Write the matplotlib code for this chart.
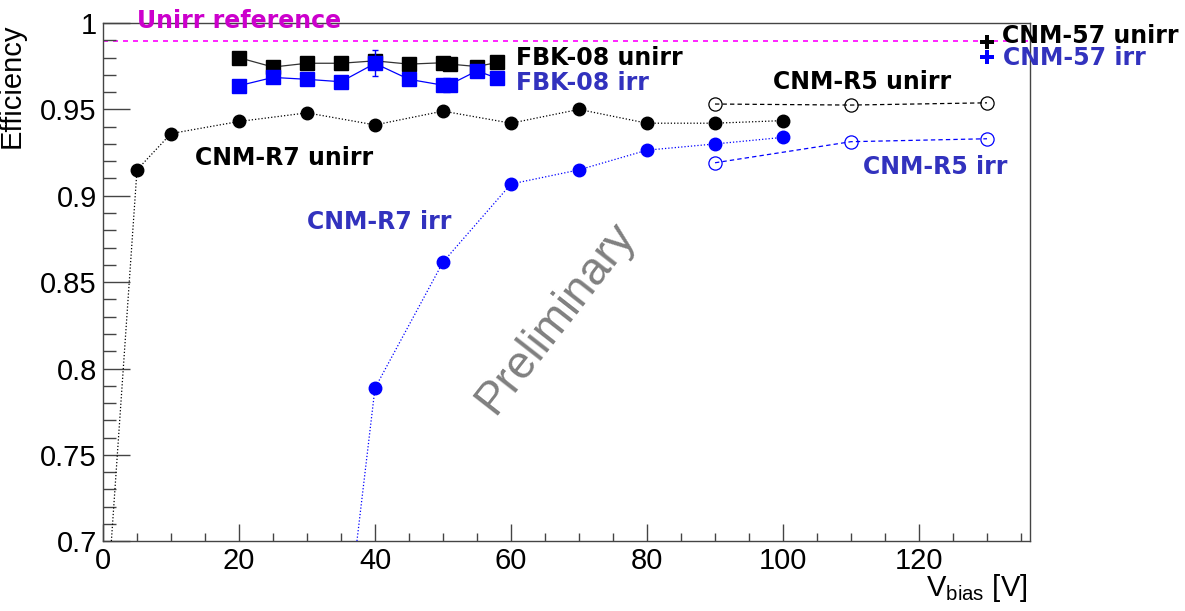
import matplotlib
matplotlib.use("Agg")
import matplotlib.pyplot as plt
from matplotlib.ticker import MultipleLocator, FixedLocator, FixedFormatter

# ---- data ----
r7_unirr_v = [1, 5, 10, 20, 30, 40, 50, 60, 70, 80, 90, 100]
r7_unirr_eff = [0.687, 0.915, 0.936, 0.943, 0.948, 0.941, 0.949, 0.942, 0.950, 0.942, 0.942, 0.9435]

r7_irr_v = [35, 40, 50, 60, 70, 80, 90, 100]
r7_irr_eff = [0.622, 0.7887, 0.8616, 0.9068, 0.9150, 0.9264, 0.9300, 0.9338]

r5_unirr_v = [90, 110, 130]
r5_unirr_eff = [0.9531, 0.9525, 0.9538]

r5_irr_v = [90, 110, 130]
r5_irr_eff = [0.9191, 0.9313, 0.9330]

fbk_v = [20, 25, 30, 35, 40, 45, 50, 51, 55, 58]
fbk_unirr_eff = [0.9799, 0.9745, 0.9767, 0.9767, 0.9781, 0.9762, 0.9770, 0.9762, 0.9748, 0.9772]
fbk_irr_eff = [0.9637, 0.9685, 0.9674, 0.9660, 0.9766, 0.9674, 0.9640, 0.9644, 0.9723, 0.9680]
fbk_irr_err = [0, 0, 0, 0, 0.0075, 0, 0, 0, 0, 0]

cnm57_v = [130]
cnm57_unirr_eff = [0.989]
cnm57_irr_eff = [0.9804]

unirr_reference = 0.9897

y_ticks = [0.7, 0.75, 0.8, 0.85, 0.9, 0.95, 1.0]
y_tick_labels = ["0.7", "0.75", "0.8", "0.85", "0.9", "0.95", "1"]
x_ticks = [0, 20, 40, 60, 80, 100, 120]
x_tick_labels = ["0", "20", "40", "60", "80", "100", "120"]

# ---- style ----
plt.rcParams["mathtext.fontset"] = "custom"
plt.rcParams["mathtext.rm"] = "Liberation Sans"
plt.rcParams["mathtext.it"] = "Liberation Sans:italic"
plt.rcParams["mathtext.bf"] = "Liberation Sans:bold"

BLUE = "#0000ff"
TXT_BLUE = "#3232be"
MAGENTA_TXT = "#cc00cc"
MAGENTA = "#ff00ff"
FRAME = "#444444"

W, H = 1185, 611
fig = plt.figure(figsize=(W / 100, H / 100), dpi=100)
ax = fig.add_axes([103 / W, 1 - 541.3 / H, (1030 - 103) / W, (541.3 - 23) / H])

ax.set_xlim(0, (1030 - 103) / 6.8)
ax.set_ylim(0.7, 1.0)

dotted = (0, (1, 1.6))
dashed = (0, (3.5, 2.5))

# reference line
ax.axhline(unirr_reference, color=MAGENTA, lw=1.2, ls=(0, (3, 3)), zorder=1)

# CNM-R7
ax.plot(r7_unirr_v, r7_unirr_eff, color="black", lw=0.9, ls=dotted,
        marker="o", ms=9, mec="black", mfc="black", zorder=3)
ax.plot(r7_irr_v, r7_irr_eff, color=BLUE, lw=0.9, ls=dotted,
        marker="o", ms=9, mec=BLUE, mfc=BLUE, zorder=3)

# CNM-R5
ax.plot(r5_unirr_v, r5_unirr_eff, color="black", lw=0.9, ls=dashed,
        marker="o", ms=9.5, mec="black", mfc="none", mew=0.9, zorder=3)
ax.plot(r5_irr_v, r5_irr_eff, color=BLUE, lw=0.9, ls=dashed,
        marker="o", ms=9.5, mec=BLUE, mfc="none", mew=0.9, zorder=3)

# FBK-08
ax.plot(fbk_v, fbk_unirr_eff, color="#333333", lw=0.9, ls="-",
        marker="s", ms=9.5, mec="black", mfc="black", zorder=3)
ax.errorbar(fbk_v, fbk_irr_eff, yerr=fbk_irr_err, color=BLUE, lw=0.9, ls="-",
            marker="s", ms=9.5, mec=BLUE, mfc=BLUE, ecolor=BLUE, elinewidth=1,
            capsize=2.5, capthick=1, zorder=4)

# CNM-57
ax.plot(cnm57_v, cnm57_unirr_eff, ls="none", marker="P", ms=9.5,
        color="black", mew=0, zorder=5, clip_on=False)
ax.plot(cnm57_v, cnm57_irr_eff, ls="none", marker="P", ms=9.5,
        color=BLUE, mew=0, zorder=5, clip_on=False)

# labels
lab = dict(fontsize=17, fontweight="bold", family="DejaVu Sans",
           ha="left", va="baseline", clip_on=False, zorder=6)
ax.text(4.96, 0.9969, "Unirr reference", color=MAGENTA_TXT, **lab)
ax.text(60.8, 0.9756, "FBK-08 unirr", color="black", **lab)
ax.text(60.8, 0.9612, "FBK-08 irr", color=TXT_BLUE, **lab)
ax.text(13.5, 0.9178, "CNM-R7 unirr", color="black", **lab)
ax.text(30.0, 0.8806, "CNM-R7 irr", color=TXT_BLUE, **lab)
ax.text(98.6, 0.9616, "CNM-R5 unirr", color="black", **lab)
ax.text(111.8, 0.9124, "CNM-R5 irr", color=TXT_BLUE, **lab)
ax.text(132.2, 0.9882, "CNM-57 unirr", color="black", **lab)
ax.text(132.3, 0.9756, "CNM-57 irr", color=TXT_BLUE, **lab)

ax.text(556 / W, 1 - 318 / H, "Preliminary", transform=fig.transFigure,
        rotation=52, fontsize=33, family="Liberation Sans", color="#808080",
        ha="center", va="center", rotation_mode="anchor", zorder=2)

# axes
for s in ax.spines.values():
    s.set_color(FRAME)
    s.set_linewidth(1.0)

ax.xaxis.set_major_locator(FixedLocator(x_ticks))
ax.xaxis.set_major_formatter(FixedFormatter(x_tick_labels))
ax.xaxis.set_minor_locator(MultipleLocator(5))
ax.yaxis.set_major_locator(FixedLocator(y_ticks))
ax.yaxis.set_major_formatter(FixedFormatter(y_tick_labels))
ax.yaxis.set_minor_locator(MultipleLocator(0.01))

ax.tick_params(which="both", direction="in", top=False, right=False,
               color=FRAME, width=1)
ax.tick_params(axis="y", which="major", length=19.5, pad=4.5)
ax.tick_params(axis="y", which="minor", length=9.6)
ax.tick_params(axis="x", which="major", length=12, pad=4)
ax.tick_params(axis="x", which="minor", length=5.5)
for t in ax.get_xticklabels() + ax.get_yticklabels():
    t.set_fontfamily("Liberation Sans")
    t.set_fontsize(21)

fig.text(20 / W, 1 - 23 / H, "Efficiency", rotation=90, rotation_mode="anchor",
         ha="right", va="baseline", fontsize=21, family="Liberation Sans")
fig.text(1028 / W, 1 - 596 / H, r"V$_{\mathrm{bias}}$ [V]", ha="right",
         va="baseline", fontsize=21, family="Liberation Sans")

fig.savefig("out.png", dpi=100)
